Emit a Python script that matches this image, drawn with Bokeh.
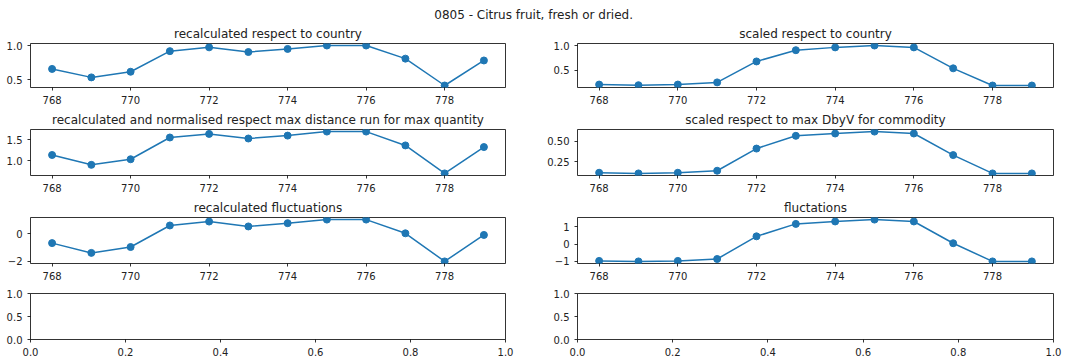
from bokeh.plotting import figure
from bokeh.models import Range1d, FixedTicker, Label
from bokeh.layouts import column, row
from bokeh.embed import file_html
from bokeh.resources import INLINE

# ---------------- data ----------------
suptitle = "0805 - Citrus fruit, fresh or dried."
periods = [768, 769, 770, 771, 772, 773, 774, 775, 776, 777, 778, 779]

recalc_country = [0.659, 0.536, 0.618, 0.918, 0.973, 0.905, 0.950, 1.0, 1.0, 0.809, 0.418, 0.782]
scaled_country = [0.209, 0.196, 0.209, 0.253, 0.677, 0.905, 0.962, 1.0, 0.962, 0.538, 0.190, 0.190]
recalc_norm = [1.14, 0.906, 1.039, 1.555, 1.64, 1.531, 1.60, 1.695, 1.695, 1.367, 0.703, 1.328]
scaled_dbyv = [0.121, 0.113, 0.121, 0.145, 0.410, 0.5625, 0.590, 0.613, 0.590, 0.332, 0.113, 0.113]
recalc_fluct = [-0.667, -1.38, -0.952, 0.619, 0.905, 0.548, 0.786, 1.048, 1.048, 0.048, -2.0, -0.071]
fluct = [-0.97, -1.0, -0.97, -0.86, 0.457, 1.18, 1.32, 1.43, 1.32, 0.057, -1.0, -1.0]

titles = [
    "recalculated respect to country",
    "scaled respect to country",
    "recalculated and normalised respect max distance run for max quantity",
    "scaled respect to max DbyV for commodity",
    "recalculated fluctuations",
    "fluctations",
]

period_ticks = [768, 770, 772, 774, 776, 778]
period_labels = ["768", "770", "772", "774", "776", "778"]

y_ticks_1 = [0.5, 1.0]
y_labels_1 = ["0.5", "1.0"]
y_ticks_2 = [0.5, 1.0]
y_labels_2 = ["0.5", "1.0"]
y_ticks_3 = [1.0, 1.5]
y_labels_3 = ["1.0", "1.5"]
y_ticks_4 = [0.25, 0.50]
y_labels_4 = ["0.25", "0.50"]
y_ticks_5 = [-2, 0]
y_labels_5 = ["\u22122", "0"]
y_ticks_6 = [-1, 0, 1]
y_labels_6 = ["\u22121", "0", "1"]

empty_ticks = [0.0, 0.2, 0.4, 0.6, 0.8, 1.0]
empty_labels = ["0.0", "0.2", "0.4", "0.6", "0.8", "1.0"]
empty_y_ticks = [0.0, 0.5, 1.0]
empty_y_labels = ["0.0", "0.5", "1.0"]

# ---------------- style ----------------
BLUE = "#1f77b4"
FONT = "DejaVu Sans"
TXT = "#222222"


def padded(vals, frac=0.05):
    lo, hi = min(vals), max(vals)
    span = hi - lo
    return Range1d(lo - frac * span, hi + frac * span)


def panel(width, height, borders, xr, yr, xt, xl, yt, yl, title=None):
    left, right, top, bottom = borders
    p = figure(width=width, height=height, x_range=xr, y_range=yr,
               toolbar_location=None, output_backend="svg",
               min_border_left=left, min_border_right=right,
               min_border_top=top, min_border_bottom=bottom,
               background_fill_color="white", border_fill_color="white")
    p.grid.visible = False
    p.outline_line_color = "black"
    p.outline_line_width = 0.8
    p.outline_line_alpha = 1.0
    for ax, ticks, labels, standoff in ((p.xaxis[0], xt, xl, 5), (p.yaxis[0], yt, yl, 5)):
        ax.ticker = FixedTicker(ticks=ticks)
        ax.major_label_overrides = {t: l for t, l in zip(ticks, labels)}
        ax.axis_line_color = None
        ax.major_tick_in = 0
        ax.major_tick_out = 3
        ax.major_tick_line_color = "black"
        ax.major_tick_line_width = 0.8
        ax.minor_tick_line_color = None
        ax.major_label_standoff = standoff
        ax.major_label_text_font = FONT
        ax.major_label_text_font_size = "10px"
        ax.major_label_text_color = TXT
    if title is not None:
        p.title.text = title
        p.title.align = "center"
        p.title.text_font = FONT
        p.title.text_font_size = "12px"
        p.title.text_font_style = "normal"
        p.title.text_color = TXT
        p.title.standoff = 5
    return p


def line_panel(vals, title, yt, yl, width, height, borders):
    p = panel(width, height, borders, padded(periods), padded(vals),
              period_ticks, period_labels, yt, yl, title)
    p.line(periods, vals, line_color=BLUE, line_width=1.5)
    p.scatter(periods, vals, size=7, fill_color=BLUE, line_color=BLUE)
    return p


W = 544
LB = (30, 39)
RB = (33, 35)

# suptitle strip
head = figure(width=1088, height=22, x_range=Range1d(0, 1), y_range=Range1d(0, 22),
              x_axis_type=None, y_axis_type=None, toolbar_location=None,
              output_backend="svg", min_border=0, outline_line_color=None)
head.grid.visible = False
head.add_layout(Label(x=0.49, y=14.5, text=suptitle, text_align="center",
                      text_baseline="top", text_font=FONT,
                      text_font_size="12px", text_color=TXT))

p1 = line_panel(recalc_country, titles[0], y_ticks_1, y_labels_1, W, 84, (*LB, 19, 18))
p2 = line_panel(scaled_country, titles[1], y_ticks_2, y_labels_2, W, 84, (*RB, 19, 18))
p3 = line_panel(recalc_norm, titles[2], y_ticks_3, y_labels_3, W, 88, (*LB, 23, 18))
p4 = line_panel(scaled_dbyv, titles[3], y_ticks_4, y_labels_4, W, 88, (*RB, 23, 18))
p5 = line_panel(recalc_fluct, titles[4], y_ticks_5, y_labels_5, W, 88, (*LB, 23, 19))
p6 = line_panel(fluct, titles[5], y_ticks_6, y_labels_6, W, 88, (*RB, 23, 19))
p7 = panel(W, 76, (*LB, 11, 18), Range1d(0, 1), Range1d(0, 1),
           empty_ticks, empty_labels, empty_y_ticks, empty_y_labels)
p8 = panel(W, 76, (*RB, 11, 18), Range1d(0, 1), Range1d(0, 1),
           empty_ticks, empty_labels, empty_y_ticks, empty_y_labels)

layout = column(head, row(p1, p2), row(p3, p4), row(p5, p6), row(p7, p8))

open("out.html", "w").write(file_html(layout, INLINE))
